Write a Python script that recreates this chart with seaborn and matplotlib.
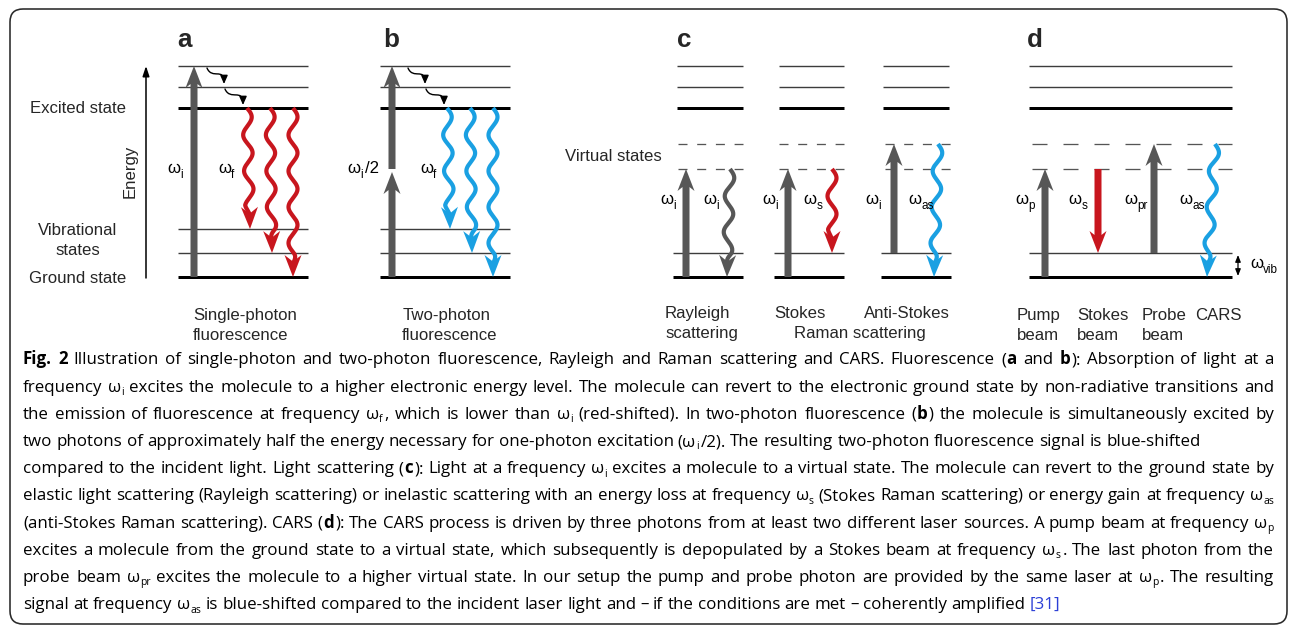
import re
import numpy as np
import pandas as pd
import matplotlib
matplotlib.use("Agg")
import matplotlib.pyplot as plt
import seaborn as sns
from matplotlib import font_manager
from matplotlib.patches import FancyBboxPatch, Polygon, FancyArrowPatch
from matplotlib.path import Path

# ---------------------------------------------------------------- data
# energy levels (arbitrary units, ground state = 0)
E_GROUND = 0
E_VIB = [24, 48]
E_VIRTUAL = [108, 133]
E_EXCITED = [169, 190, 211]

PANEL_LETTERS = ["a", "b", "c", "d"]
STATE_LABELS = ["Excited state", "Vibrational", "states", "Ground state"]

# a: single-photon fluorescence
A_ABSORPTION = (0, 211)
A_EMISSION_END = [48, 24, 0]
# b: two-photon fluorescence
B_ABSORPTION = [(0, 105), (108, 211)]
B_EMISSION_END = [48, 24, 0]
# c: Rayleigh / Raman scattering
C_EXCITATION = [(0, 108), (0, 108), (24, 133)]
C_EMISSION = [(108, 0), (108, 24), (133, 0)]
C_EMISSION_COLOR = ["gray", "red", "blue"]
C_SUBS = [("i", "i"), ("i", "s"), ("i", "as")]
# d: CARS
D_PUMP = (0, 108)
D_STOKES = (108, 24)
D_PROBE = (24, 133)
D_CARS = (133, 0)
D_SUBS = ["p", "s", "pr", "as"]
D_NAMES = [("Pump", "beam"), ("Stokes", "beam"), ("Probe", "beam"), ("CARS", "")]

CAPTION = [
    "**Fig. 2** Illustration of single-photon and two-photon fluorescence, Rayleigh and Raman scattering and CARS. Fluorescence (**a** and **b**): Absorption of light at a",
    "frequency ω_{i} excites the molecule to a higher electronic energy level. The molecule can revert to the electronic ground state by non-radiative transitions and",
    "the emission of fluorescence at frequency ω_{f}, which is lower than ω_{i} (red-shifted). In two-photon fluorescence (**b**) the molecule is simultaneously excited by",
    "two photons of approximately half the energy necessary for one-photon excitation (ω_{i}/2). The resulting two-photon fluorescence signal is blue-shifted",
    "compared to the incident light. Light scattering (**c**): Light at a frequency ω_{i} excites a molecule to a virtual state. The molecule can revert to the ground state by",
    "elastic light scattering (Rayleigh scattering) or inelastic scattering with an energy loss at frequency ω_{s} (Stokes Raman scattering) or energy gain at frequency ω_{as}",
    "(anti-Stokes Raman scattering). CARS (**d**): The CARS process is driven by three photons from at least two different laser sources. A pump beam at frequency ω_{p}",
    "excites a molecule from the ground state to a virtual state, which subsequently is depopulated by a Stokes beam at frequency ω_{s}. The last photon from the",
    "probe beam ω_{pr} excites the molecule to a higher virtual state. In our setup the pump and probe photon are provided by the same laser at ω_{p}. The resulting",
    "signal at frequency ω_{as} is blue-shifted compared to the incident laser light and – if the conditions are met – coherently amplified {{[31]}}",
]
CAPTION_JUSTIFY = [True, True, True, False, True, True, True, True, True, False]

# ---------------------------------------------------------------- style
sns.set_theme(style="white")
avail = {f.name for f in font_manager.fontManager.ttflist}


def pick(cands):
    for c in cands:
        if c in avail:
            return c
    return "DejaVu Sans"


DIAG_FONT = [pick(["Liberation Sans", "Arial", "Roboto"]), "DejaVu Sans"]
CAP_FONT = [pick(["Open Sans", "Noto Sans", "Lato", "Liberation Sans"]), "DejaVu Sans"]
plt.rcParams["font.family"] = DIAG_FONT
plt.rcParams["lines.scale_dashes"] = False
plt.rcParams["lines.solid_capstyle"] = "butt"

W, H = 1290, 626
PX = 72 / 100.0            # points per pixel at dpi 100
GRAY = "#575757"
RED = "#c8161e"
BLUE = "#1aa0e2"
THIN_C = "#3c3c3c"
LINK_C = "#2b3fd6"
COLORS = {"gray": GRAY, "red": RED, "blue": BLUE}
LBL = 16.8                 # diagram label size in px
GROUND_PX = 277            # pixel row of ground level


def ey(px):
    """pixel row -> energy coordinate of the diagram axes"""
    return GROUND_PX - px


fig = plt.figure(figsize=(W / 100, H / 100), dpi=100)
fig.patch.set_facecolor("white")
ax = fig.add_axes([0, 0, 1, 1])
cap = fig.add_axes([0, 0, 1, 1])
for a in (ax, cap):
    a.set_facecolor("none")
renderer = fig.canvas.get_renderer()

# ---------------------------------------------------------------- levels
seg_rows = []


def add_level(x0, x1, e, kind):
    sid = len(seg_rows) // 2
    seg_rows.append({"seg": sid, "x": x0, "E": e, "kind": kind})
    seg_rows.append({"seg": sid, "x": x1, "E": e, "kind": kind})


dashed = []
for (x0, x1) in [(178, 308), (380, 510)]:
    for e in E_VIB + E_EXCITED[1:]:
        add_level(x0, x1, e, "thin")
    for e in [E_GROUND, E_EXCITED[0]]:
        add_level(x0, x1, e, "thick")

C_UP = [(677, 743), (779, 844), (883, 949)]
C_LOW = [(673, 743), (774, 844), (881, 951)]
C_DASH = [(678, 743), (779, 844), (885, 951)]
for up, low, da in zip(C_UP, C_LOW, C_DASH):
    for e in E_EXCITED[1:]:
        add_level(*up, e, "thin")
    add_level(*up, E_EXCITED[0], "thick")
    add_level(*low, E_VIB[0], "thin")
    add_level(*low, E_GROUND, "thick")
    for e in E_VIRTUAL:
        dashed.append((da, e, (9, 9.7)))

for e in E_EXCITED[1:]:
    add_level(1029, 1232, e, "thin")
add_level(1029, 1232, E_EXCITED[0], "thick")
add_level(1029, 1232, E_VIB[0], "thin")
add_level(1029, 1232, E_GROUND, "thick")
for e in E_VIRTUAL:
    dashed.append(((1032, 1232), e, (15, 16)))

lev = pd.DataFrame(seg_rows)
sns.lineplot(data=lev[lev.kind == "thin"], x="x", y="E", units="seg", estimator=None,
             sort=False, color=THIN_C, linewidth=1.4 * PX, ax=ax, legend=False, zorder=2)
sns.lineplot(data=lev[lev.kind == "thick"], x="x", y="E", units="seg", estimator=None,
             sort=False, color="black", linewidth=3.0 * PX, ax=ax, legend=False, zorder=2)
for (x0, x1), e, (on, off) in dashed:
    ax.plot([x0, x1], [e, e], color="#555555", lw=1.3 * PX,
            linestyle=(0, (on * PX, off * PX)), zorder=2)


# ---------------------------------------------------------------- arrows
def straight_arrow(x, e0, e1, color, shaft=7, hw=17, hl=22):
    d = np.sign(e1 - e0)
    base = e1 - d * hl
    notch = e1 - d * hl * 0.82
    xs = [x - shaft / 2, x - shaft / 2, x - hw / 2, x, x + hw / 2, x + shaft / 2, x + shaft / 2]
    ys = [e0, notch, base, e1, base, notch, e0]
    ax.fill(xs, ys, color=color, lw=0, zorder=3)


def wavy_arrow(x0, e0, x1, e1, color, lw_px=4.2, amp=4.5, lam=36, hw=17, hl=22):
    p0 = np.array([x0, e0], float)
    p1 = np.array([x1, e1], float)
    v = p1 - p0
    L = np.hypot(*v)
    u = v / L
    n = np.array([-u[1], u[0]])
    if n[0] < 0:
        n = -n
    Lw = L - hl * 0.6
    s = np.linspace(0, Lw, 400)
    env = np.clip((Lw - s) / (lam * 0.3), 0, 1)
    off = amp * np.sin(2 * np.pi * s / lam) * env
    pts = p0 + np.outer(s, u) + np.outer(off, n)
    ax.plot(pts[:, 0], pts[:, 1], color=color, lw=lw_px * PX, zorder=3)
    back = p1 - u * hl
    notch = p1 - u * hl * 0.7
    head = [p1, back + n * hw / 2, notch, back - n * hw / 2]
    ax.add_patch(Polygon(head, closed=True, facecolor=color, edgecolor="none", zorder=4))


def relax_arrow(pts_px):
    verts = [(x, ey(y)) for x, y in pts_px]
    path = Path(verts, [Path.MOVETO, Path.CURVE4, Path.CURVE4, Path.CURVE4])
    ax.add_patch(FancyArrowPatch(path=path, arrowstyle="-|>,head_length=0.5,head_width=0.22",
                                 mutation_scale=10, lw=1.0, color="black", zorder=5))


# panel a
straight_arrow(194, *A_ABSORPTION, GRAY)
for xs, xe, e_end in zip([247, 270, 293], [250, 272, 293], A_EMISSION_END):
    wavy_arrow(xs, E_EXCITED[0], xe, e_end, RED)
# panel b
for e0, e1 in B_ABSORPTION:
    straight_arrow(392, e0, e1, GRAY)
for xs, xe, e_end in zip([447, 470, 493], [450, 472, 493], B_EMISSION_END):
    wavy_arrow(xs, E_EXCITED[0], xe, e_end, BLUE)
# non-radiative relaxation in a and b
for dx in (0, 201):
    relax_arrow([(207 + dx, 68), (212 + dx, 80), (224 + dx, 67), (224 + dx, 84)])
    relax_arrow([(225 + dx, 89), (230 + dx, 101), (243 + dx, 88), (243 + dx, 105)])

# panel c
for x, (e0, e1) in zip([686, 788, 894], C_EXCITATION):
    straight_arrow(x, e0, e1, GRAY)
for xs, xe, (e0, e1), col in zip([730, 832, 938], [727, 832, 934], C_EMISSION, C_EMISSION_COLOR):
    wavy_arrow(xs, e0, xe, e1, COLORS[col])

# panel d
straight_arrow(1045, *D_PUMP, GRAY)
straight_arrow(1098, *D_STOKES, RED)
straight_arrow(1154, *D_PROBE, GRAY)
wavy_arrow(1215, D_CARS[0], 1207, D_CARS[1], BLUE)
ax.add_patch(FancyArrowPatch(posA=(1238, ey(255)), posB=(1238, ey(276)),
                             arrowstyle="<|-|>,head_length=0.4,head_width=0.16",
                             mutation_scale=10, lw=0.9, color="black",
                             shrinkA=0, shrinkB=0, zorder=5))

# energy axis arrow
ax.add_patch(FancyArrowPatch(posA=(146, ey(278)), posB=(146, ey(66)),
                             arrowstyle="-|>,head_length=0.6,head_width=0.2",
                             mutation_scale=10, lw=1.1, color="black",
                             shrinkA=0, shrinkB=0, zorder=5))


# ---------------------------------------------------------------- text helpers
def frag(axis, x, y, txt, st, size, family, down, color="black", sub=0.65, drop=0.25):
    fs = size * sub if st == "s" else size
    yy = y + down * size * drop if st == "s" else y
    return axis.text(x, yy, txt, fontsize=fs * PX, family=family,
                     fontweight="bold" if st == "b" else "normal",
                     color=LINK_C if st == "l" else color,
                     ha="left", va="baseline", zorder=6)


def tw(t):
    return t.get_window_extent(renderer).width


def pad_between(prev, st, size):
    if st == "s":
        return size * 0.01
    if prev == "s":
        return size * 0.1
    return size * 0.05


def rich(axis, x, y, pieces, size, family, down, ha="left", color="black", sub=0.65, drop=0.25):
    ts, cur = [], 0.0
    prev = None
    for i, (txt, st) in enumerate(pieces):
        t = frag(axis, 0, y, txt, st, size, family, down, color, sub, drop)
        if i > 0:
            cur += pad_between(prev, st, size)
        ts.append((t, cur))
        cur += tw(t)
        prev = st
    x0 = x - cur / 2 if ha == "center" else x
    for t, o in ts:
        t.set_x(x0 + o)
    return cur


def label(x, ypx, s, ha="left", size=LBL, weight="normal"):
    ax.text(x, ey(ypx), s, fontsize=size * PX, family=DIAG_FONT, fontweight=weight,
            ha=ha, va="baseline", zorder=6)


def omega(x, ypx, sub, tail=""):
    pieces = [("ω", "n"), (sub, "s")]
    if tail:
        pieces.append((tail, "n"))
    rich(ax, x, ey(ypx), pieces, LBL, DIAG_FONT, -1, sub=0.7, drop=0.27)


# panel letters
for letter, x in zip(PANEL_LETTERS, [177, 383, 677, 1027]):
    label(x, 47, letter, size=26, weight="bold")

# state labels
for s, ypx in zip(STATE_LABELS, [113, 235, 255, 283]):
    label(78, ypx, s, ha="center")
ax.text(130, ey(171), "Energy", rotation=90, fontsize=LBL * PX, family=DIAG_FONT,
        ha="center", va="center", zorder=6)

omega(167, 173, "i")
omega(218, 173, "f")
omega(347, 173, "i", "/2")
omega(420, 173, "f")
for (xa, xb), (sa, sb) in zip([(660, 703), (762, 803), (865, 908)], C_SUBS):
    omega(xa, 204, sa)
    omega(xb, 204, sb)
for x, s in zip([1015, 1068, 1124, 1179], D_SUBS):
    omega(x, 204, s)
omega(1250, 268, "vib")
label(565, 161, "Virtual states")

label(193, 320, "Single-photon")
label(193, 340, "fluorescence")
label(403, 320, "Two-photon")
label(402, 340, "fluorescence")
label(665, 318, "Rayleigh")
label(665, 338, "scattering")
label(800, 318, "Stokes", ha="center")
label(907, 318, "Anti-Stokes", ha="center")
label(860, 338, "Raman scattering", ha="center")
for x, (l1, l2) in zip([1017, 1077, 1142, 1195], D_NAMES):
    label(x, 320, l1)
    if l2:
        label(x, 340, l2)

# ---------------------------------------------------------------- frame + caption
cap.add_patch(FancyBboxPatch((10, 9), 1277, 615, boxstyle="round,pad=0,rounding_size=13",
                             facecolor="none", edgecolor="#2a2a2a", lw=1.6 * PX,
                             clip_on=False, zorder=1))

MARK = re.compile(r"(\*\*.+?\*\*|_\{.+?\}|\{\{.+?\}\})")


def parse(line):
    pieces = []
    for tok in MARK.split(line):
        if not tok:
            continue
        if tok.startswith("**"):
            pieces.append((tok[2:-2], "b"))
        elif tok.startswith("_{"):
            pieces.append((tok[2:-1], "s"))
        elif tok.startswith("{{"):
            pieces.append((tok[2:-2], "l"))
        else:
            pieces.append((tok, "n"))
    words = [[]]
    for txt, st in pieces:
        parts = txt.split(" ")
        for i, p in enumerate(parts):
            if i > 0:
                words.append([])
            if p:
                words[-1].append((p, st))
    return [w for w in words if w]


def word_width(word, size):
    w = 0.0
    prev = None
    for i, (txt, st) in enumerate(word):
        t = frag(cap, 0, 0, txt, st, size, CAP_FONT, 1, sub=0.62, drop=0.2)
        if i > 0:
            w += pad_between(prev, st, size)
        w += tw(t)
        t.remove()
        prev = st
    return w


def space_width(size):
    a = cap.text(0, 0, "n n", fontsize=size * PX, family=CAP_FONT)
    b = cap.text(0, 0, "nn", fontsize=size * PX, family=CAP_FONT)
    w = tw(a) - tw(b)
    a.remove()
    b.remove()
    return w


CAP_X0, CAP_X1 = 23, 1274
CAP_BASE0, CAP_STEP = 364.5, 27.2
parsed = [parse(l) for l in CAPTION]

s0 = 16.0
sp0 = space_width(s0)
nat = [sum(word_width(w, s0) for w in ws) + sp0 * (len(ws) - 1) for ws in parsed]
max_just = max(n for n, j in zip(nat, CAPTION_JUSTIFY) if j)
size = s0 * (CAP_X1 - CAP_X0) / max_just * 0.99
sp = space_width(size)

for k, (ws, just) in enumerate(zip(parsed, CAPTION_JUSTIFY)):
    yb = CAP_BASE0 + k * CAP_STEP
    widths = [word_width(w, size) for w in ws]
    gap = sp
    if just and len(ws) > 1:
        gap = (CAP_X1 - CAP_X0 - sum(widths)) / (len(ws) - 1)
    x = CAP_X0
    for w, wd in zip(ws, widths):
        rich(cap, x, yb, w, size, CAP_FONT, 1, sub=0.62, drop=0.2)
        x += wd + gap

# ---------------------------------------------------------------- axes
ax.set_xlim(0, W)
ax.set_ylim(ey(H), ey(0))
ax.axis("off")
cap.set_xlim(0, W)
cap.set_ylim(H, 0)
cap.axis("off")

fig.savefig("out.png", dpi=100)
